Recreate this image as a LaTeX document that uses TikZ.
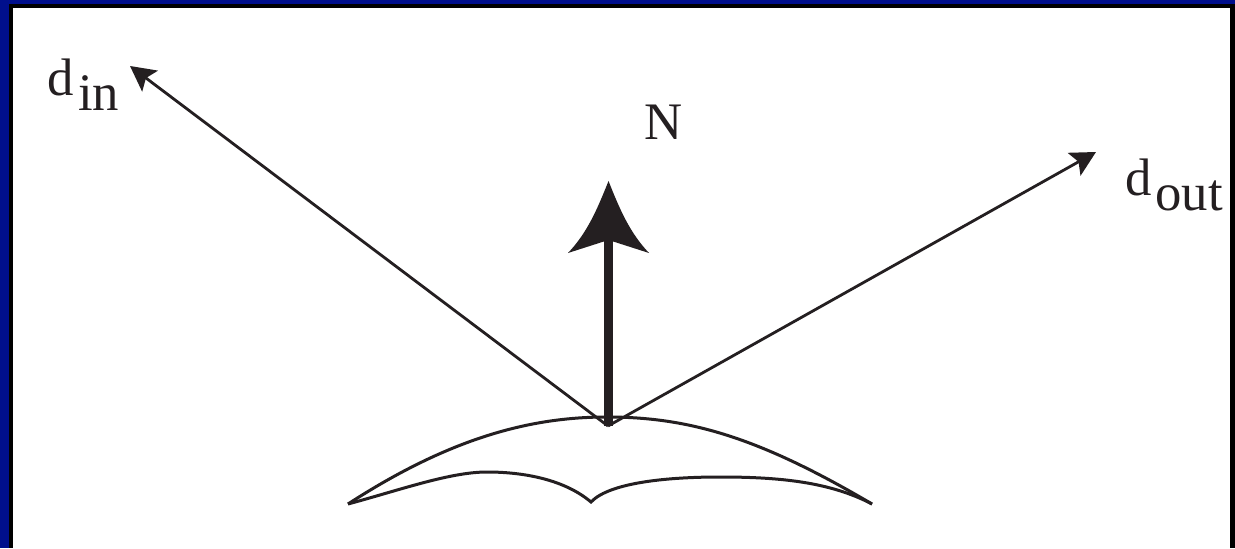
\documentclass[tikz,border=0pt]{standalone}
\usepackage{fontspec}
\setmainfont{Liberation Serif}
\usetikzlibrary{arrows.meta}
\definecolor{navyframe}{rgb}{0.0, 0.06, 0.55}
\definecolor{inkblack}{rgb}{0.14, 0.12, 0.13}
\tikzset{
  ray/.style={inkblack,line width=0.028cm,-{Stealth[length=0.25cm,width=0.26cm,inset=0.05cm]}},
  textlabel/.style={inkblack,inner sep=0pt,anchor=base west,font=\fontsize{15}{15}\selectfont},
  surf/.style={inkblack,line width=0.03cm}
}
\begin{document}
\begin{tikzpicture}
\useasboundingbox (0,0) rectangle (12.35,5.48);
\fill[navyframe] (0,0) rectangle (12.35,5.48);
\fill[black] (0.09,0) rectangle (12.35,5.44);
\fill[white] (0.13,0) rectangle (12.30,5.40);
\coordinate (foot) at (6.08,1.22);
\coordinate (in) at (1.30,4.82);
\coordinate (out) at (10.96,3.96);
\coordinate (tip) at (6.085,3.67);
\coordinate (left) at (3.48,0.44);
\coordinate (right) at (8.72,0.44);
\coordinate (notch) at (5.91,0.46);
\draw[ray] (foot) -- (in);
\draw[ray] (foot) -- (out);
% normal arrow
\draw[inkblack,line width=0.09cm] (foot) -- (6.08,3.1);
\fill[inkblack] (tip) .. controls (6.2,3.38) and (6.3,3.15) .. (6.49,2.95)
  -- (6.085,3.08) -- (5.68,2.95)
  .. controls (5.87,3.15) and (5.97,3.38) .. (tip);
% surface
\draw[surf] (left) .. controls (4.0,0.58) and (4.5,0.76) .. (4.87,0.76)
  .. controls (5.25,0.76) and (5.65,0.68) .. (notch)
  .. controls (6.1,0.66) and (6.7,0.71) .. (7.2,0.71)
  .. controls (7.8,0.71) and (8.3,0.66) .. (right);
\draw[surf] (left) .. controls (4.5,1.1) and (5.3,1.31) .. (6.07,1.31)
  .. controls (6.9,1.31) and (7.6,1.1) .. (right);
\node[textlabel] (dinlabel) at (0.47,4.52) {d\hspace{0.04cm}\raisebox{-0.15cm}{in}};
\node[textlabel] (nlabel) at (6.44,4.09) {N};
\node[textlabel] (doutlabel) at (11.25,3.53) {d\hspace{0.035cm}\raisebox{-0.15cm}{out}};
\end{tikzpicture}
\end{document}
